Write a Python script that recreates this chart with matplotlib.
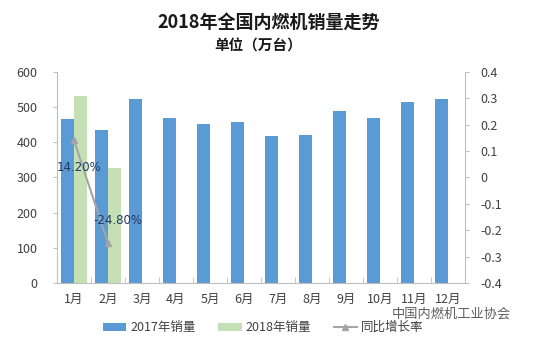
import matplotlib.pyplot as plt
import numpy as np

plt.rcParams['font.family'] = ['Noto Sans CJK SC', 'DejaVu Sans']

months = ['1月', '2月', '3月', '4月', '5月', '6月', '7月', '8月', '9月', '10月', '11月', '12月']
sales_2017 = [466, 436, 522, 470, 451, 459, 418, 421, 488, 468, 516, 522]
sales_2018 = [533, 328]
growth = [0.142, -0.248]
growth_labels = ['14.20%', '-24.80%']

blue = '#5B9BD5'
green = '#C5E0B4'
grey = '#A5A5A5'
axis_col = '#BFBFBF'

fig = plt.figure(figsize=(5.37, 3.40), dpi=100)
ax = fig.add_axes([0.106, 0.168, 0.760, 0.620])

x = np.arange(len(months))
w = 0.39
b1 = ax.bar(x - w / 2, sales_2017, w, color=blue, label='2017年销量')
b2 = ax.bar(x[:len(sales_2018)] + w / 2, sales_2018, w, color=green, label='2018年销量')

ax.set_xlim(-0.5, 11.5)
ax.set_ylim(0, 600)
ax.set_yticks(range(0, 601, 100))
ax.set_xticks(x)
ax.set_xticklabels(months)
ax.set_xticks(np.arange(-0.5, 12, 1), minor=True)
ax.tick_params(axis='x', which='major', length=0, labelsize=9, pad=7, colors='#404040')
ax.tick_params(axis='x', which='minor', length=4, direction='in', color=axis_col)
ax.tick_params(axis='y', length=3, labelsize=9, colors='#404040', color=axis_col, pad=11)
for s in ['top', 'right']:
    ax.spines[s].set_visible(False)
for s in ['left', 'bottom']:
    ax.spines[s].set_color(axis_col)

ax2 = ax.twinx()
ax2.set_ylim(-0.4, 0.4)
ax2.set_yticks(np.arange(-0.4, 0.41, 0.1))
ax2.set_yticklabels(['-0.4', '-0.3', '-0.2', '-0.1', '0', '0.1', '0.2', '0.3', '0.4'])
ax2.tick_params(axis='y', length=3, labelsize=9, colors='#404040', color=axis_col, pad=8)
for s in ['top', 'left', 'bottom']:
    ax2.spines[s].set_visible(False)
ax2.spines['right'].set_color(axis_col)

ln, = ax2.plot(x[:len(growth)], growth, color=grey, lw=1.5, marker='^', ms=4,
               label='同比增长率')
ax2.annotate(growth_labels[0], (x[0], growth[0]), xytext=(4, -20), textcoords='offset points',
             ha='center', va='center', fontsize=8.5, color='#1F3864', family=['DejaVu Sans'])
ax2.annotate(growth_labels[1], (x[1], growth[1]), xytext=(7, 16), textcoords='offset points',
             ha='center', va='center', fontsize=8.5, color='#1F3864', family=['DejaVu Sans'])

fig.legend([b1, b2, ln], ['2017年销量', '2018年销量', '同比增长率'], loc='center',
           bbox_to_anchor=(0.49, 0.036), ncol=3, frameon=False, fontsize=9,
           handlelength=1.9, handleheight=0.6, columnspacing=1.8, handletextpad=0.3,
           labelcolor='#404040')

fig.text(0.50, 0.935, '2018年全国内燃机销量走势', ha='center', va='center',
         fontsize=13, fontweight='bold', color='#1a1a1a')
fig.text(0.480, 0.866, '单位（万台）', ha='center', va='center',
         fontsize=10.5, fontweight='bold', color='#1a1a1a')
fig.text(0.84, 0.076, '中国内燃机工业协会', ha='center', va='center',
         fontsize=9.5, color='#606060')

fig.savefig('out.png', dpi=100)
